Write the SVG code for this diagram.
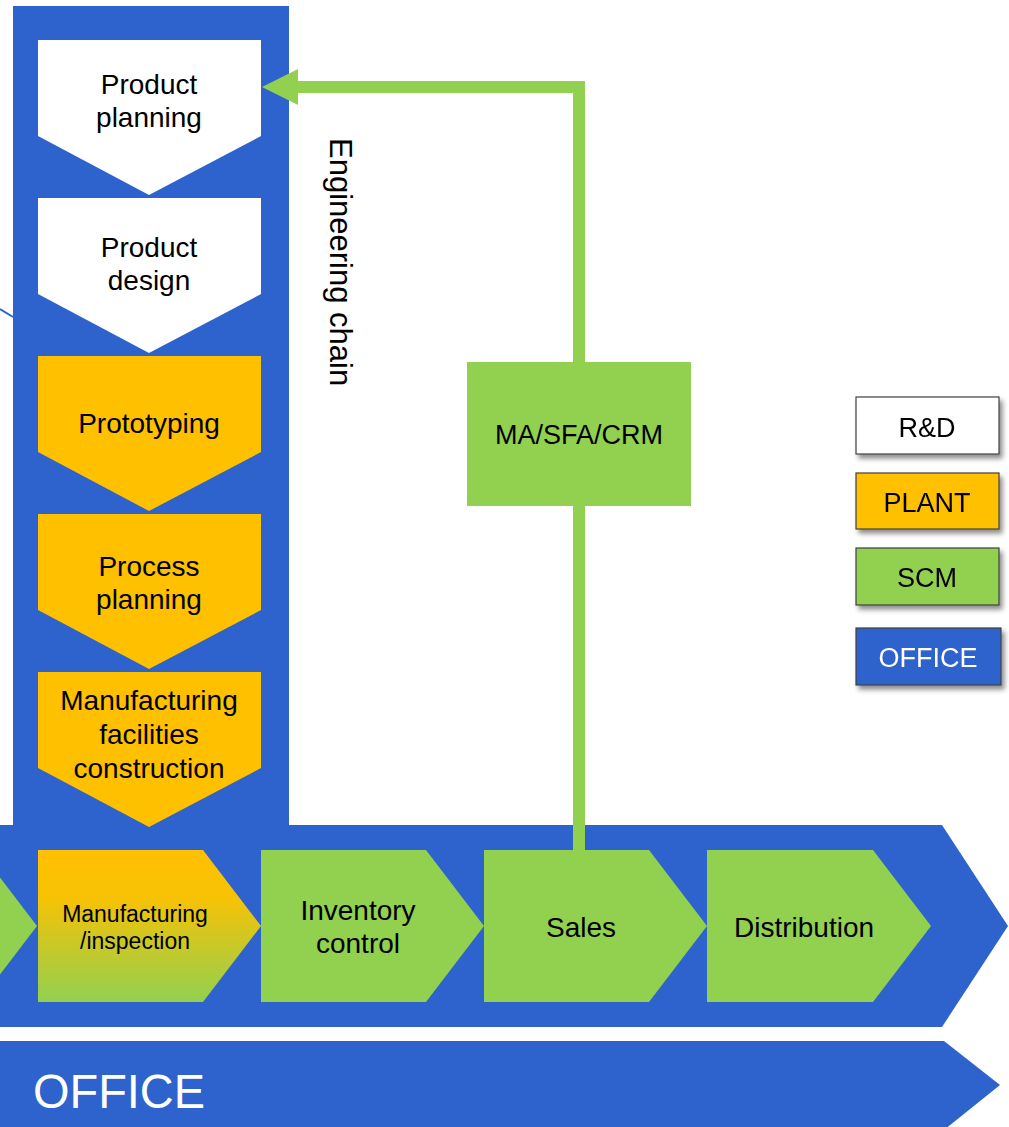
<svg xmlns="http://www.w3.org/2000/svg" width="1009" height="1127" viewBox="0 0 1009 1127">
  <style>
    .lbl { font-family: "Liberation Sans", Arial, sans-serif; font-size: 28px; fill: #000; text-anchor: middle; }
    .rd { fill: #FFFFFF; }
    .plant { fill: #FFC000; }
    .scm { fill: #92D050; }
    .office { fill: #2E62CC; }
    .legend { stroke: #404040; stroke-width: 1.2; }
  </style>
  <defs>
    <linearGradient id="mfgFill" x1="0" y1="0" x2="0" y2="1">
      <stop offset="0" stop-color="#FFC000"/>
      <stop offset="0.3" stop-color="#F8C204"/>
      <stop offset="1" stop-color="#92D050"/>
    </linearGradient>
    <filter id="shadow" x="-10%" y="-20%" width="130%" height="150%">
      <feDropShadow dx="3" dy="4" stdDeviation="2.5" flood-color="#000" flood-opacity="0.45"/>
    </filter>
    <marker id="arrowHead" markerUnits="userSpaceOnUse" markerWidth="40" markerHeight="40" refX="8" refY="18" orient="auto">
      <path d="M0,0 L36,18 L0,36 Z" fill="#92D050"/>
    </marker>
  </defs>

  <!-- background bands -->
  <g id="bands">
    <rect class="office" x="13" y="6" width="276" height="830"/>
    <path class="office" d="M0,825 H942 L1008,926 L942,1027 H0 Z"/>
    <path class="office" d="M0,1041 H944 L1000,1085 L944,1130 H0 Z"/>
  </g>

  <!-- connectors -->
  <g id="connectors" fill="none" stroke="#92D050" stroke-width="12">
    <line x1="0" y1="309" x2="13" y2="317" stroke="#2E62CC" stroke-width="2"/>
    <path d="M579,362 V87 H290" marker-end="url(#arrowHead)"/>
    <line x1="579" y1="505" x2="579" y2="851"/>
  </g>

  <!-- engineering chain (vertical) -->
  <g id="node-product-planning">
    <path class="rd" d="M38,40 H261 V136 L149,195 L38,136 Z"/>
    <text class="lbl" x="149" y="94">Product</text>
    <text class="lbl" x="149" y="127">planning</text>
  </g>
  <g id="node-product-design">
    <path class="rd" d="M38,198 H261 V294 L149,353 L38,294 Z"/>
    <text class="lbl" x="149" y="257">Product</text>
    <text class="lbl" x="149" y="290">design</text>
  </g>
  <g id="node-prototyping">
    <path class="plant" d="M38,356 H261 V452 L149,511 L38,452 Z"/>
    <text class="lbl" x="149" y="433">Prototyping</text>
  </g>
  <g id="node-process-planning">
    <path class="plant" d="M38,514 H261 V610 L149,669 L38,610 Z"/>
    <text class="lbl" x="149" y="576">Process</text>
    <text class="lbl" x="149" y="609">planning</text>
  </g>
  <g id="node-facilities">
    <path class="plant" d="M38,672 H261 V768 L149,827 L38,768 Z"/>
    <text class="lbl" x="149" y="710">Manufacturing</text>
    <text class="lbl" x="149" y="744">facilities</text>
    <text class="lbl" x="149" y="778">construction</text>
  </g>
  <g id="label-engineering-chain">
    <text class="lbl" x="330" y="138" transform="rotate(90 330 138)" style="text-anchor:start;font-size:31px">Engineering chain</text>
  </g>

  <!-- supply chain (horizontal) -->
  <g id="node-previous">
    <path class="scm" d="M-30,850 H-21 L37,926 L-21,1002 H-30 Z"/>
  </g>
  <g id="node-manufacturing">
    <path fill="url(#mfgFill)" d="M38,850 H203 L261,926 L203,1002 H38 Z"/>
    <text class="lbl" x="135" y="922" style="font-size:23px">Manufacturing</text>
    <text class="lbl" x="135" y="949" style="font-size:23px">/inspection</text>
  </g>
  <g id="node-inventory">
    <path class="scm" d="M261,850 H426 L484,926 L426,1002 H261 Z"/>
    <text class="lbl" x="358" y="920">Inventory</text>
    <text class="lbl" x="358" y="953">control</text>
  </g>
  <g id="node-sales">
    <path class="scm" d="M484,850 H649 L707,926 L649,1002 H484 Z"/>
    <text class="lbl" x="581" y="937">Sales</text>
  </g>
  <g id="node-distribution">
    <path class="scm" d="M707,850 H873 L931,926 L873,1002 H707 Z"/>
    <text class="lbl" x="804" y="937">Distribution</text>
  </g>

  <g id="node-ma-sfa-crm">
    <rect class="scm" x="467" y="362" width="224" height="144"/>
    <text class="lbl" x="579" y="444" style="font-size:27px">MA/SFA/CRM</text>
  </g>

  <g id="label-office">
    <text x="33" y="1108" font-family="'Liberation Sans', Arial, sans-serif" font-size="48" fill="#FFFFFF" textLength="172" lengthAdjust="spacingAndGlyphs">OFFICE</text>
  </g>

  <!-- legend -->
  <g id="legend-rd" filter="url(#shadow)">
    <rect class="rd legend" x="856" y="397" width="143" height="57"/>
    <text class="lbl" x="927" y="437" style="font-size:27px">R&amp;D</text>
  </g>
  <g id="legend-plant" filter="url(#shadow)">
    <rect class="plant legend" x="856" y="473" width="143" height="56"/>
    <text class="lbl" x="927" y="512" style="font-size:27px">PLANT</text>
  </g>
  <g id="legend-scm" filter="url(#shadow)">
    <rect class="scm legend" x="856" y="548" width="143" height="57"/>
    <text class="lbl" x="927" y="587" style="font-size:27px">SCM</text>
  </g>
  <g id="legend-office" filter="url(#shadow)">
    <rect class="office legend" x="856" y="628" width="145" height="57"/>
    <text class="lbl" x="928" y="667" style="font-size:27px;fill:#FFFFFF">OFFICE</text>
  </g>
</svg>
